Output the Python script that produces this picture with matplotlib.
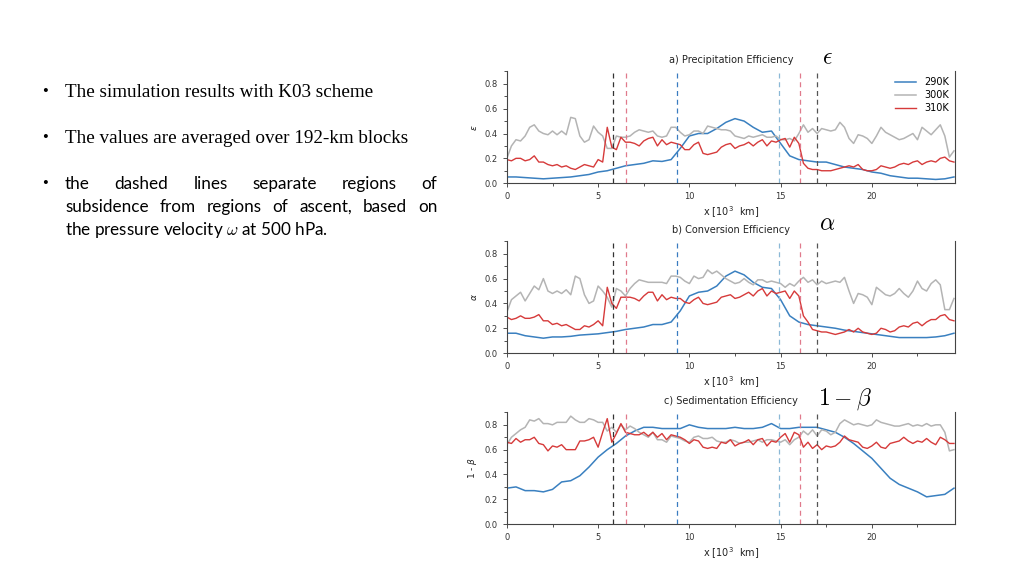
import numpy as np
import matplotlib
matplotlib.use("Agg")
from matplotlib import pyplot as plt
from matplotlib.ticker import MultipleLocator

# grid of the noisy series (300K, 310K) and of the smooth 290K series
x_fine = np.arange(0, 24.51, 0.25)
x_coarse = np.arange(0, 24.51, 0.5)

# a) precipitation efficiency
eps_290 = [0.05, 0.05, 0.045, 0.04, 0.035, 0.04, 0.045, 0.05, 0.06, 0.07,
           0.09, 0.10, 0.12, 0.14, 0.15, 0.16, 0.18, 0.175, 0.19, 0.28,
           0.38, 0.40, 0.40, 0.44, 0.49, 0.52, 0.50, 0.45, 0.41, 0.42,
           0.32, 0.22, 0.19, 0.18, 0.17, 0.17, 0.15, 0.13, 0.12, 0.11,
           0.09, 0.08, 0.06, 0.05, 0.04, 0.04, 0.035, 0.03, 0.035, 0.05]
eps_300 = [0.20, 0.30, 0.35, 0.34, 0.38, 0.45, 0.47, 0.42, 0.40, 0.39,
           0.42, 0.39, 0.42, 0.39, 0.53, 0.52, 0.38, 0.33, 0.35, 0.46,
           0.41, 0.38, 0.28, 0.28, 0.38, 0.37, 0.37, 0.38, 0.41, 0.43,
           0.42, 0.41, 0.42, 0.38, 0.37, 0.38, 0.45, 0.45, 0.41, 0.38,
           0.39, 0.42, 0.42, 0.40, 0.46, 0.45, 0.44, 0.43, 0.43, 0.42,
           0.38, 0.37, 0.36, 0.38, 0.37, 0.38, 0.39, 0.37, 0.37, 0.38,
           0.35, 0.35, 0.36, 0.34, 0.40, 0.47, 0.41, 0.44, 0.40, 0.44,
           0.43, 0.42, 0.43, 0.49, 0.45, 0.36, 0.32, 0.39, 0.38, 0.36,
           0.32, 0.38, 0.45, 0.41, 0.39, 0.37, 0.35, 0.36, 0.38, 0.40,
           0.35, 0.45, 0.42, 0.39, 0.43, 0.47, 0.38, 0.21, 0.26]
eps_310 = [0.19, 0.18, 0.20, 0.20, 0.18, 0.19, 0.22, 0.17, 0.17, 0.15,
           0.14, 0.15, 0.13, 0.14, 0.12, 0.11, 0.13, 0.15, 0.14, 0.13,
           0.19, 0.17, 0.45, 0.29, 0.27, 0.37, 0.33, 0.33, 0.32, 0.30,
           0.34, 0.36, 0.37, 0.30, 0.35, 0.31, 0.33, 0.32, 0.31, 0.27,
           0.27, 0.31, 0.33, 0.24, 0.23, 0.24, 0.25, 0.29, 0.31, 0.32,
           0.28, 0.30, 0.31, 0.33, 0.30, 0.33, 0.35, 0.30, 0.34, 0.33,
           0.35, 0.36, 0.29, 0.37, 0.32, 0.16, 0.12, 0.11, 0.11, 0.10,
           0.10, 0.10, 0.11, 0.12, 0.13, 0.14, 0.13, 0.15, 0.11, 0.10,
           0.10, 0.11, 0.14, 0.13, 0.12, 0.13, 0.15, 0.16, 0.15, 0.17,
           0.18, 0.15, 0.17, 0.18, 0.17, 0.20, 0.21, 0.18, 0.17]

# b) conversion efficiency
alpha_290 = [0.16, 0.16, 0.14, 0.13, 0.12, 0.13, 0.13, 0.135, 0.145, 0.15,
             0.155, 0.165, 0.175, 0.19, 0.20, 0.21, 0.23, 0.23, 0.25, 0.34,
             0.46, 0.49, 0.50, 0.54, 0.62, 0.66, 0.63, 0.57, 0.53, 0.52,
             0.43, 0.30, 0.25, 0.23, 0.22, 0.21, 0.20, 0.185, 0.175, 0.165,
             0.155, 0.145, 0.135, 0.125, 0.125, 0.125, 0.125, 0.13, 0.14, 0.16]
alpha_300 = [0.33, 0.43, 0.46, 0.49, 0.42, 0.48, 0.54, 0.51, 0.60, 0.50,
             0.48, 0.50, 0.48, 0.51, 0.47, 0.62, 0.60, 0.47, 0.40, 0.42,
             0.54, 0.50, 0.45, 0.37, 0.52, 0.50, 0.46, 0.52, 0.56, 0.59,
             0.58, 0.57, 0.57, 0.57, 0.57, 0.56, 0.62, 0.62, 0.61, 0.58,
             0.56, 0.62, 0.60, 0.61, 0.67, 0.64, 0.66, 0.63, 0.60, 0.58,
             0.56, 0.57, 0.60, 0.57, 0.55, 0.59, 0.59, 0.57, 0.58, 0.57,
             0.56, 0.53, 0.56, 0.54, 0.58, 0.61, 0.57, 0.59, 0.55, 0.58,
             0.56, 0.57, 0.58, 0.57, 0.61, 0.50, 0.40, 0.48, 0.47, 0.45,
             0.39, 0.53, 0.50, 0.47, 0.46, 0.48, 0.52, 0.48, 0.45, 0.50,
             0.58, 0.52, 0.50, 0.56, 0.59, 0.55, 0.35, 0.35, 0.44]
alpha_310 = [0.29, 0.27, 0.28, 0.30, 0.28, 0.28, 0.29, 0.31, 0.26, 0.26,
             0.23, 0.24, 0.22, 0.23, 0.21, 0.19, 0.19, 0.22, 0.21, 0.23,
             0.26, 0.22, 0.53, 0.40, 0.36, 0.45, 0.45, 0.45, 0.44, 0.42,
             0.46, 0.49, 0.49, 0.42, 0.47, 0.43, 0.45, 0.44, 0.44, 0.41,
             0.40, 0.43, 0.45, 0.40, 0.39, 0.40, 0.41, 0.45, 0.46, 0.47,
             0.44, 0.45, 0.47, 0.49, 0.46, 0.50, 0.52, 0.46, 0.50, 0.48,
             0.49, 0.50, 0.44, 0.50, 0.46, 0.30, 0.25, 0.19, 0.18, 0.17,
             0.17, 0.16, 0.15, 0.16, 0.17, 0.19, 0.17, 0.20, 0.17, 0.16,
             0.15, 0.16, 0.20, 0.19, 0.17, 0.18, 0.21, 0.22, 0.21, 0.24,
             0.25, 0.22, 0.25, 0.27, 0.27, 0.30, 0.31, 0.27, 0.26]

# c) sedimentation efficiency
sed_290 = [0.29, 0.30, 0.27, 0.27, 0.26, 0.28, 0.34, 0.35, 0.39, 0.46,
           0.54, 0.60, 0.65, 0.71, 0.75, 0.78, 0.78, 0.77, 0.77, 0.77,
           0.80, 0.78, 0.77, 0.77, 0.77, 0.78, 0.77, 0.77, 0.78, 0.81,
           0.77, 0.77, 0.78, 0.78, 0.78, 0.76, 0.74, 0.70, 0.65, 0.59,
           0.53, 0.45, 0.37, 0.32, 0.29, 0.26, 0.22, 0.23, 0.24, 0.29]
sed_300 = [0.64, 0.70, 0.73, 0.76, 0.78, 0.84, 0.83, 0.85, 0.81, 0.81,
           0.80, 0.82, 0.82, 0.82, 0.87, 0.84, 0.82, 0.82, 0.85, 0.84,
           0.82, 0.82, 0.75, 0.78, 0.74, 0.80, 0.76, 0.79, 0.77, 0.74,
           0.72, 0.70, 0.74, 0.68, 0.68, 0.66, 0.71, 0.70, 0.69, 0.67,
           0.66, 0.70, 0.71, 0.69, 0.69, 0.70, 0.67, 0.66, 0.66, 0.68,
           0.67, 0.65, 0.66, 0.66, 0.67, 0.68, 0.66, 0.68, 0.68, 0.67,
           0.66, 0.68, 0.64, 0.68, 0.70, 0.75, 0.72, 0.76, 0.71, 0.76,
           0.75, 0.72, 0.74, 0.81, 0.84, 0.82, 0.80, 0.81, 0.80, 0.79,
           0.80, 0.84, 0.82, 0.81, 0.80, 0.79, 0.79, 0.80, 0.81, 0.79,
           0.80, 0.79, 0.81, 0.79, 0.80, 0.80, 0.74, 0.59, 0.60]
sed_310 = [0.66, 0.65, 0.69, 0.66, 0.68, 0.68, 0.70, 0.65, 0.64, 0.59,
           0.63, 0.62, 0.64, 0.60, 0.60, 0.60, 0.67, 0.67, 0.68, 0.70,
           0.62, 0.74, 0.85, 0.66, 0.73, 0.81, 0.74, 0.73, 0.72, 0.72,
           0.74, 0.71, 0.74, 0.70, 0.73, 0.68, 0.72, 0.71, 0.70, 0.68,
           0.65, 0.68, 0.67, 0.62, 0.61, 0.62, 0.61, 0.66, 0.65, 0.68,
           0.63, 0.65, 0.66, 0.68, 0.64, 0.68, 0.69, 0.63, 0.67, 0.66,
           0.70, 0.73, 0.66, 0.74, 0.72, 0.62, 0.66, 0.61, 0.64, 0.60,
           0.63, 0.62, 0.63, 0.66, 0.71, 0.68, 0.67, 0.66, 0.62, 0.61,
           0.63, 0.66, 0.62, 0.61, 0.65, 0.66, 0.67, 0.70, 0.67, 0.65,
           0.67, 0.66, 0.69, 0.66, 0.64, 0.70, 0.68, 0.65, 0.65]

# region boundaries (dashed lines)
bounds = [5.8, 6.55, 9.3, 14.9, 16.05, 17.0]
bound_colors = ["#333333", "#e07a8c", "#3a7cc0", "#8bb8d6", "#e07a8c", "#555555"]

panels = [
    ("a) Precipitation Efficiency", r"$\epsilon$", eps_290, eps_300, eps_310),
    ("b) Conversion Efficiency", r"$\alpha$", alpha_290, alpha_300, alpha_310),
    ("c) Sedimentation Efficiency", r"1 - $\beta$", sed_290, sed_300, sed_310),
]
big_labels = [(r"$\epsilon$", 0.808, 0.9), (r"$\alpha$", 0.808, 0.613),
              (r"$1-\beta$", 0.825, 0.307)]

c290, c300, c310 = "#3a80c0", "#b4b4b4", "#d63a3a"
tick_col = "#333333"

fig = plt.figure(figsize=(10.24, 5.76), dpi=100)
bottoms = [0.682, 0.387, 0.090]

for (title, ylab, s290, s300, s310), b in zip(panels, bottoms):
    ax = fig.add_axes([0.495, b, 0.4375, 0.194])
    ax.plot(x_coarse, s290, color=c290, lw=1.1, label="290K")
    ax.plot(x_fine, s300, color=c300, lw=1.1, label="300K")
    ax.plot(x_fine, s310, color=c310, lw=1.0, label="310K")
    for xb, cb in zip(bounds, bound_colors):
        ax.axvline(xb, color=cb, ls=(0, (4, 3)), lw=0.9)
    ax.set_xlim(0, 24.55)
    ax.set_ylim(0, 0.9)
    ax.xaxis.set_major_locator(MultipleLocator(5))
    ax.xaxis.set_minor_locator(MultipleLocator(2.5))
    ax.yaxis.set_major_locator(MultipleLocator(0.2))
    ax.yaxis.set_minor_locator(MultipleLocator(0.1))
    ax.tick_params(labelsize=6, colors=tick_col, length=3, width=0.6)
    ax.tick_params(which="minor", length=2, width=0.6, colors=tick_col)
    ax.spines["top"].set_visible(False)
    for sp in ("left", "bottom", "right"):
        ax.spines[sp].set_color("#444444")
        ax.spines[sp].set_linewidth(0.8)
    ax.set_title(title, fontsize=7, color="#222222", pad=6)
    ax.set_xlabel(r"x [10$^3$  km]", fontsize=7, color="#222222", labelpad=2)
    ax.set_ylabel(ylab, fontsize=6.5, color="#222222", labelpad=4)
    if b == bottoms[0]:
        ax.legend(loc="upper right", frameon=False, fontsize=7,
                  handlelength=2.2, borderaxespad=0.2, labelspacing=0.3)

for txt, xf, yf in big_labels:
    fig.text(xf, yf, txt, fontsize=17, ha="center", va="center", color="black",
             math_fontfamily="cm")

# left slide text
serif = "Liberation Serif"
sans = "Lato"
for yb in (0.840, 0.760, 0.681):
    fig.text(0.041, yb, "\u2022", fontsize=12, family=serif, va="center")
fig.text(0.0635, 0.840, "The simulation results with K03 scheme", fontsize=13.8,
         family=serif, va="center")
fig.text(0.0635, 0.760, "The values are averaged over 192-km blocks", fontsize=13.8,
         family=serif, va="center")

# justified paragraph
left, right = 0.0635, 0.427
lines = [("the dashed lines separate regions of", 0.681),
         ("subsidence from regions of ascent, based on", 0.641)]
renderer = fig.canvas.get_renderer()
fw = fig.get_figwidth() * fig.dpi
for line, yf in lines:
    words = line.split()
    arts = [fig.text(0, yf, w, fontsize=12.3, family=sans, va="center") for w in words]
    widths = [a.get_window_extent(renderer).width / fw for a in arts]
    gap = (right - left - sum(widths)) / (len(words) - 1)
    pos = left
    for a, w in zip(arts, widths):
        a.set_x(pos)
        pos += w + gap
fig.text(left, 0.601, r"the pressure velocity $\omega$ at 500 hPa.", fontsize=12.3,
         family=sans, va="center", math_fontfamily="cm")

fig.savefig("out.png", dpi=100)
